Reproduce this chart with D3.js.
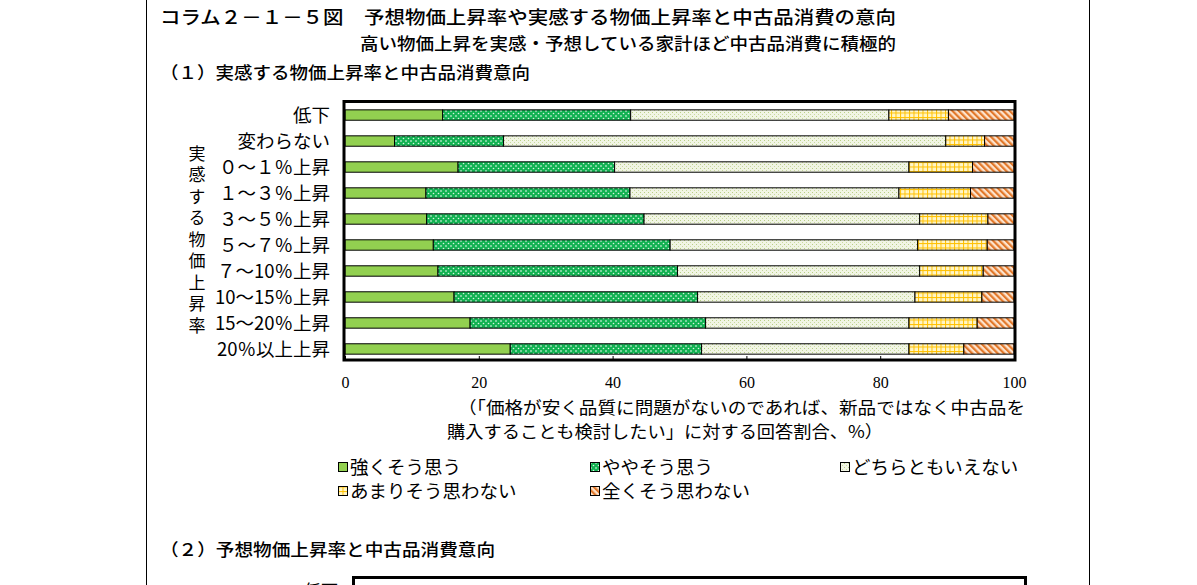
<!DOCTYPE html>
<html>
<head>
<meta charset="utf-8">
<script src="https://cdn.jsdelivr.net/npm/d3@7"></script>
<style>
  body { margin: 0; background: #fff; }
  svg { display: block; }
  .jp { font-family: "Noto Sans CJK JP", sans-serif; fill: #000; }
  .num { font-family: "Liberation Serif", "Noto Sans CJK JP", serif; fill: #000; }
</style>
</head>
<body>
<div id="chart"></div>
<script>
// 実感する物価上昇率ごとの回答割合（％）
const categories = ["低下", "変わらない", "０～１％上昇", "１～３％上昇", "３～５％上昇",
  "５～７％上昇", "７～10％上昇", "10～15％上昇", "15～20％上昇", "20％以上上昇"];
const seriesNames = ["強くそう思う", "ややそう思う", "どちらともいえない", "あまりそう思わない", "全くそう思わない"];
const strongly = [14.6, 7.4, 16.9, 12.1, 12.2, 13.2, 13.9, 16.3, 18.7, 24.7];
const somewhat = [28.1, 16.3, 23.4, 30.5, 32.5, 35.4, 35.8, 36.4, 35.2, 28.6];
const neither = [38.6, 66.1, 44.0, 40.2, 41.2, 37.0, 36.2, 32.5, 30.4, 31.0];
const notMuch = [8.9, 5.8, 9.5, 10.7, 10.2, 10.4, 9.5, 10.0, 10.2, 8.2];
const notAtAll = [9.8, 4.4, 6.2, 6.5, 3.9, 4.0, 4.6, 4.8, 5.5, 7.5];
const xTicks = [0, 20, 40, 60, 80, 100];
const axisTitle = "実感する物価上昇率";

const W = 1197, H = 585;
const svg = d3.select("#chart").append("svg").attr("width", W).attr("height", H);

// patterns
const defs = svg.append("defs");
function pattern(id, w, h) {
  return defs.append("pattern").attr("id", id).attr("patternUnits", "userSpaceOnUse")
    .attr("width", w).attr("height", h);
}
let p = pattern("p2", 5, 5);
p.append("rect").attr("width", 5).attr("height", 5).attr("fill", "#12b252");
p.append("circle").attr("cx", 1).attr("cy", 1).attr("r", 0.8).attr("fill", "#fff");
p.append("circle").attr("cx", 3.5).attr("cy", 3.5).attr("r", 0.8).attr("fill", "#d8f5e0");

p = pattern("p3", 4, 4);
p.append("rect").attr("width", 4).attr("height", 4).attr("fill", "#f1f5e4");
p.append("rect").attr("x", 0).attr("y", 0).attr("width", 1).attr("height", 1).attr("fill", "#b9cf86");
p.append("rect").attr("x", 2).attr("y", 2).attr("width", 1).attr("height", 1).attr("fill", "#c9daa0");

p = pattern("p4", 4.5, 4.5);
p.append("rect").attr("width", 4.5).attr("height", 4.5).attr("fill", "#fff6c8");
p.append("rect").attr("width", 4.5).attr("height", 1).attr("fill", "#ffc000");
p.append("rect").attr("width", 1).attr("height", 4.5).attr("fill", "#ffc000");

p = pattern("p5", 4.5, 4.5).attr("patternTransform", "rotate(-45)");
p.append("rect").attr("width", 4.5).attr("height", 4.5).attr("fill", "#fde3cc");
p.append("rect").attr("width", 2.2).attr("height", 4.5).attr("fill", "#e2782a");

const fills = ["#92d050", "url(#p2)", "url(#p3)", "url(#p4)", "url(#p5)"];

// page frame
svg.append("line").attr("x1", 146.5).attr("x2", 146.5).attr("y1", 0).attr("y2", H).attr("stroke", "#000");
svg.append("line").attr("x1", 1089.5).attr("x2", 1089.5).attr("y1", 0).attr("y2", H).attr("stroke", "#000");

// headings
svg.append("text").attr("class", "jp").attr("x", 160).attr("y", 24)
  .attr("textLength", 736).attr("lengthAdjust", "spacingAndGlyphs")
  .style("font-size", "18px").style("font-weight", 500)
  .text("コラム２－１－５図　予想物価上昇率や実感する物価上昇率と中古品消費の意向");
svg.append("text").attr("class", "jp").attr("x", 896).attr("y", 50)
  .attr("text-anchor", "end").attr("textLength", 536).attr("lengthAdjust", "spacingAndGlyphs")
  .style("font-size", "17px").style("font-weight", 500)
  .text("高い物価上昇を実感・予想している家計ほど中古品消費に積極的");
svg.append("text").attr("class", "jp").attr("x", 160).attr("y", 79)
  .attr("textLength", 370).attr("lengthAdjust", "spacingAndGlyphs")
  .style("font-size", "17px").style("font-weight", 500)
  .text("（１）実感する物価上昇率と中古品消費意向");

// scales
const x = d3.scaleLinear().domain([0, 100]).range([345, 1014]);
const y = d3.scaleBand().domain(categories).range([101, 363])
  .paddingInner(0.6).paddingOuter(0.34);

const rows = categories.map((c, i) => ({
  cat: c,
  [seriesNames[0]]: strongly[i],
  [seriesNames[1]]: somewhat[i],
  [seriesNames[2]]: neither[i],
  [seriesNames[3]]: notMuch[i],
  [seriesNames[4]]: notAtAll[i]
}));
const stacked = d3.stack().keys(seriesNames)(rows);

const g = svg.append("g");
g.selectAll("g.series")
  .data(stacked)
  .join("g")
  .attr("class", "series")
  .attr("fill", (d, i) => fills[i])
  .selectAll("rect")
  .data((d) => d)
  .join("rect")
  .attr("x", (d) => x(d[0]))
  .attr("y", (d) => y(d.data.cat))
  .attr("width", (d) => x(d[1]) - x(d[0]))
  .attr("height", y.bandwidth())
  .attr("stroke", "#000")
  .attr("stroke-width", 1);

// x axis with inward ticks
const xAxis = svg.append("g")
  .attr("transform", `translate(0,360)`)
  .call(d3.axisBottom(x).tickValues(xTicks).tickSizeInner(-4).tickSizeOuter(0).tickPadding(17));
xAxis.select(".domain").remove();
xAxis.selectAll("line").attr("stroke", "#000");
xAxis.selectAll("text").attr("class", "num").style("font-size", "16px").attr("font-family", null);

// plot frame
svg.append("rect").attr("x", 344).attr("y", 101.5).attr("width", 671).attr("height", 258.5)
  .attr("fill", "none").attr("stroke", "#000").attr("stroke-width", 3);

// y axis labels
const yAxis = svg.append("g")
  .attr("transform", `translate(345,0)`)
  .call(d3.axisLeft(y).tickSize(0).tickPadding(15));
yAxis.select(".domain").remove();
yAxis.selectAll("text").attr("class", "jp").attr("font-family", null)
  .style("font-size", "18.5px").attr("dy", "0.36em");

// vertical axis title
svg.append("text")
  .attr("class", "jp")
  .attr("transform", "translate(197,145)")
  .style("writing-mode", "vertical-rl")
  .style("font-size", "17px")
  .style("letter-spacing", "4.5px")
  .text(axisTitle);

// axis note
svg.append("text").attr("class", "jp").attr("x", 458).attr("y", 414)
  .attr("textLength", 567).attr("lengthAdjust", "spacingAndGlyphs")
  .style("font-size", "17px")
  .text("（「価格が安く品質に問題がないのであれば、新品ではなく中古品を");
svg.append("text").attr("class", "jp").attr("x", 447).attr("y", 438)
  .attr("textLength", 436).attr("lengthAdjust", "spacingAndGlyphs")
  .style("font-size", "17px")
  .text("購入することも検討したい」に対する回答割合、%）");

// legend
const legendPos = [[338, 467], [590, 467], [840, 467], [338, 491], [590, 491]];
const legend = svg.append("g").selectAll("g")
  .data(seriesNames)
  .join("g")
  .attr("transform", (d, i) => `translate(${legendPos[i][0]},${legendPos[i][1]})`);
legend.append("rect").attr("x", 0.5).attr("y", -4.5).attr("width", 9).attr("height", 9)
  .attr("fill", (d, i) => fills[i]).attr("stroke", "#000");
legend.append("text").attr("class", "jp").attr("x", 12).attr("dy", "0.36em")
  .style("font-size", "18.5px").text((d) => d);

// second panel heading (continues below)
svg.append("text").attr("class", "jp").attr("x", 160).attr("y", 556)
  .attr("textLength", 335).attr("lengthAdjust", "spacingAndGlyphs")
  .style("font-size", "17px").style("font-weight", 500)
  .text("（２）予想物価上昇率と中古品消費意向");
svg.append("rect").attr("x", 353.5).attr("y", 577.5).attr("width", 672).attr("height", 60)
  .attr("fill", "none").attr("stroke", "#000").attr("stroke-width", 3);
svg.append("text").attr("class", "jp").attr("x", 338).attr("y", 597)
  .attr("text-anchor", "end").style("font-size", "17px").text("低下");
</script>
</body>
</html>
